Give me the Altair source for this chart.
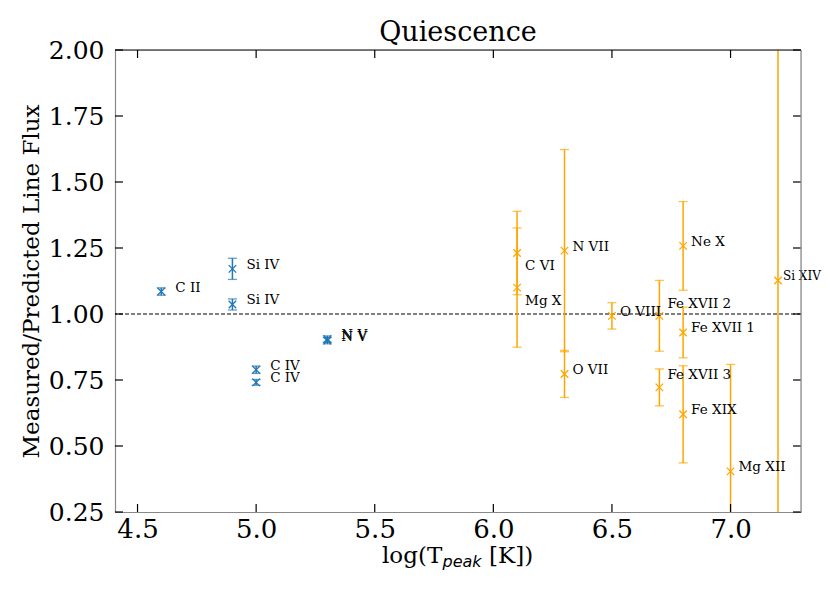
import altair as alt
import pandas as pd

# ---- data ----
blue_ions = ["C II", "Si IV", "Si IV", "C IV", "C IV", "N V", "N V"]
blue_logT = [4.6, 4.9, 4.9, 5.0, 5.0, 5.3, 5.3]
blue_ratio = [1.085, 1.171, 1.036, 0.789, 0.741, 0.905, 0.899]
blue_err = [0.014, 0.040, 0.021, 0.014, 0.011, 0.012, 0.012]

orange_ions = ["C VI", "Mg X", "N VII", "O VII", "O VIII", "Fe XVII 2",
               "Fe XVII 3", "Ne X", "Fe XVII 1", "Fe XIX", "Mg XII", "Si XIV"]
orange_logT = [6.1, 6.1, 6.3, 6.3, 6.5, 6.7, 6.7, 6.8, 6.8, 6.8, 7.0, 7.2]
orange_ratio = [1.231, 1.100, 1.240, 0.773, 0.993, 0.993, 0.722, 1.258,
                0.930, 0.620, 0.404, 1.127]
orange_err = [0.158, 0.226, 0.383, 0.089, 0.050, 0.134, 0.070, 0.168,
              0.096, 0.184, 0.405, 1.000]
# where each label sits relative to its marker
orange_place = ["below", "below", "above", "above", "above", "high",
                "high", "above", "above", "above", "above", "edge"]

x_ticks = [4.5, 5.0, 5.5, 6.0, 6.5, 7.0]
y_ticks = [0.25, 0.50, 0.75, 1.00, 1.25, 1.50, 1.75, 2.00]

chart_title = "Quiescence"
y_title = "Measured/Predicted Line Flux"

# ---- table ----
df = pd.DataFrame({
    "ion": blue_ions + orange_ions,
    "logT": blue_logT + orange_logT,
    "ratio": blue_ratio + orange_ratio,
    "err": blue_err + orange_err,
    "group": ["blue"] * len(blue_ions) + ["orange"] * len(orange_ions),
    "place": ["side"] * len(blue_ions) + orange_place,
})
df["lo"] = df["ratio"] - df["err"]
df["hi"] = df["ratio"] + df["err"]

W, H = 686, 462
SERIF = "DejaVu Serif"

xscale = alt.Scale(domain=[4.405, 7.297], nice=False, zero=False)
yscale = alt.Scale(domain=[0.25, 2.0], nice=False, zero=False)
xaxis = alt.Axis(values=x_ticks, format=".1f", title=None, grid=False,
                 ticks=False, tickSize=0, labelPadding=4,
                 labelFont=SERIF, labelFontSize=26, labelColor="black",
                 labelFlush=False, labelOverlap=False,
                 domainColor="#888888", domainWidth=1.2)
yaxis = alt.Axis(values=y_ticks, format=".2f", grid=False,
                 ticks=False, tickSize=0, labelPadding=11,
                 labelFont=SERIF, labelFontSize=25, labelColor="black",
                 labelFlush=False, labelOverlap=False,
                 domainColor="#888888", domainWidth=1.2,
                 title=y_title, titleFont=SERIF,
                 titleFontSize=23, titleFontWeight="normal", titleColor="black",
                 titleAngle=270, titleAlign="center", titleBaseline="alphabetic",
                 titleX=-77, titleY=H / 2)


def X(f):
    return alt.X(f"{f}:Q", scale=xscale, axis=xaxis)


def Y(f):
    return alt.Y(f"{f}:Q", scale=yscale, axis=yaxis)


color = alt.Color("group:N", scale=alt.Scale(domain=["blue", "orange"],
                                             range=["#1f77b4", "#ffa500"]),
                  legend=None)

base = alt.Chart(df)

hline = alt.Chart(pd.DataFrame({"one": [1.0]})).mark_rule(
    color="black", strokeDash=[4, 2], strokeWidth=1.2
).encode(y=Y("one"))

bars = base.mark_rule(strokeWidth=1.5, clip=True).encode(
    x=X("logT"), y=Y("lo"), y2="hi", color=color)
cap_lo = base.mark_tick(orient="horizontal", size=9, thickness=1.3, clip=True).encode(
    x=X("logT"), y=Y("lo"), color=color)
cap_hi = base.mark_tick(orient="horizontal", size=9, thickness=1.3, clip=True).encode(
    x=X("logT"), y=Y("hi"), color=color)
pts = base.mark_point(shape="M-1,-1L1,1M-1,1L1,-1", size=56, strokeWidth=1.3,
                      filled=False, opacity=1).encode(
    x=X("logT"), y=Y("ratio"), color=color)


def labels(group, place, dx, dy, size=13.5):
    return base.transform_filter(
        (alt.datum.group == group) & (alt.datum.place == place)
    ).mark_text(align="left", baseline="middle", dx=dx, dy=dy,
                font=SERIF, fontSize=size, color="black").encode(
        x=X("logT"), y=Y("ratio"), text="ion:N")


lab_blue = labels("blue", "side", 14, -4)
lab_above = labels("orange", "above", 8, -4)
lab_below = labels("orange", "below", 8, 13)
lab_high = labels("orange", "high", 8, -12)
lab_edge = labels("orange", "edge", 5, -4, 12)

# inward ticks on all four sides
xt = alt.Chart(pd.DataFrame({"v": x_ticks}))
yt = alt.Chart(pd.DataFrame({"v": y_ticks}))
tick_b = xt.mark_rule(color="black", strokeWidth=1.2).encode(
    x=X("v"), y=alt.value(H), y2=alt.value(H - 8))
tick_t = xt.mark_rule(color="black", strokeWidth=1.2).encode(
    x=X("v"), y=alt.value(0), y2=alt.value(8))
tick_l = yt.mark_rule(color="black", strokeWidth=1.2).encode(
    y=Y("v"), x=alt.value(0), x2=alt.value(8))
tick_r = yt.mark_rule(color="black", strokeWidth=1.2).encode(
    y=Y("v"), x=alt.value(W), x2=alt.value(W - 8))

one = alt.Chart(pd.DataFrame({"a": [0]}))
spine_r = one.mark_rule(color="#888888", strokeWidth=1.2).encode(
    x=alt.value(W), y=alt.value(0), y2=alt.value(H))
spine_t = one.mark_rule(color="black", strokeWidth=1.2).encode(
    x=alt.value(0), x2=alt.value(W), y=alt.value(0))

# chart title
ttl = one.mark_text(align="center", baseline="alphabetic", font=SERIF,
                    fontSize=27, color="black").encode(
    x=alt.value(W / 2), y=alt.value(-9), text=alt.value(chart_title))

# x-axis title with subscript
xl1 = one.mark_text(align="left", baseline="alphabetic", font=SERIF,
                    fontSize=23, color="black").encode(
    x=alt.value(267), y=alt.value(513), text=alt.value("log(T"))
xl2 = one.mark_text(align="left", baseline="alphabetic", font="DejaVu Sans",
                    fontStyle="italic", fontSize=16, color="black").encode(
    x=alt.value(327.5), y=alt.value(517), text=alt.value("peak"))
xl3 = one.mark_text(align="left", baseline="alphabetic", font=SERIF,
                    fontSize=23, color="black").encode(
    x=alt.value(374), y=alt.value(513), text=alt.value("[K])"))

chart = alt.layer(
    hline, bars, cap_lo, cap_hi, pts,
    lab_blue, lab_above, lab_below, lab_high, lab_edge,
    tick_b, tick_t, tick_l, tick_r, spine_r, spine_t,
    ttl, xl1, xl2, xl3,
).properties(
    width=W, height=H,
    autosize=alt.AutoSizeParams(type="none"),
    padding={"left": 107, "top": 42, "right": 21, "bottom": 70},
).configure_view(stroke=None).configure(background="white")

chart.save("out.html", embed_options={"renderer": "svg", "actions": False})
